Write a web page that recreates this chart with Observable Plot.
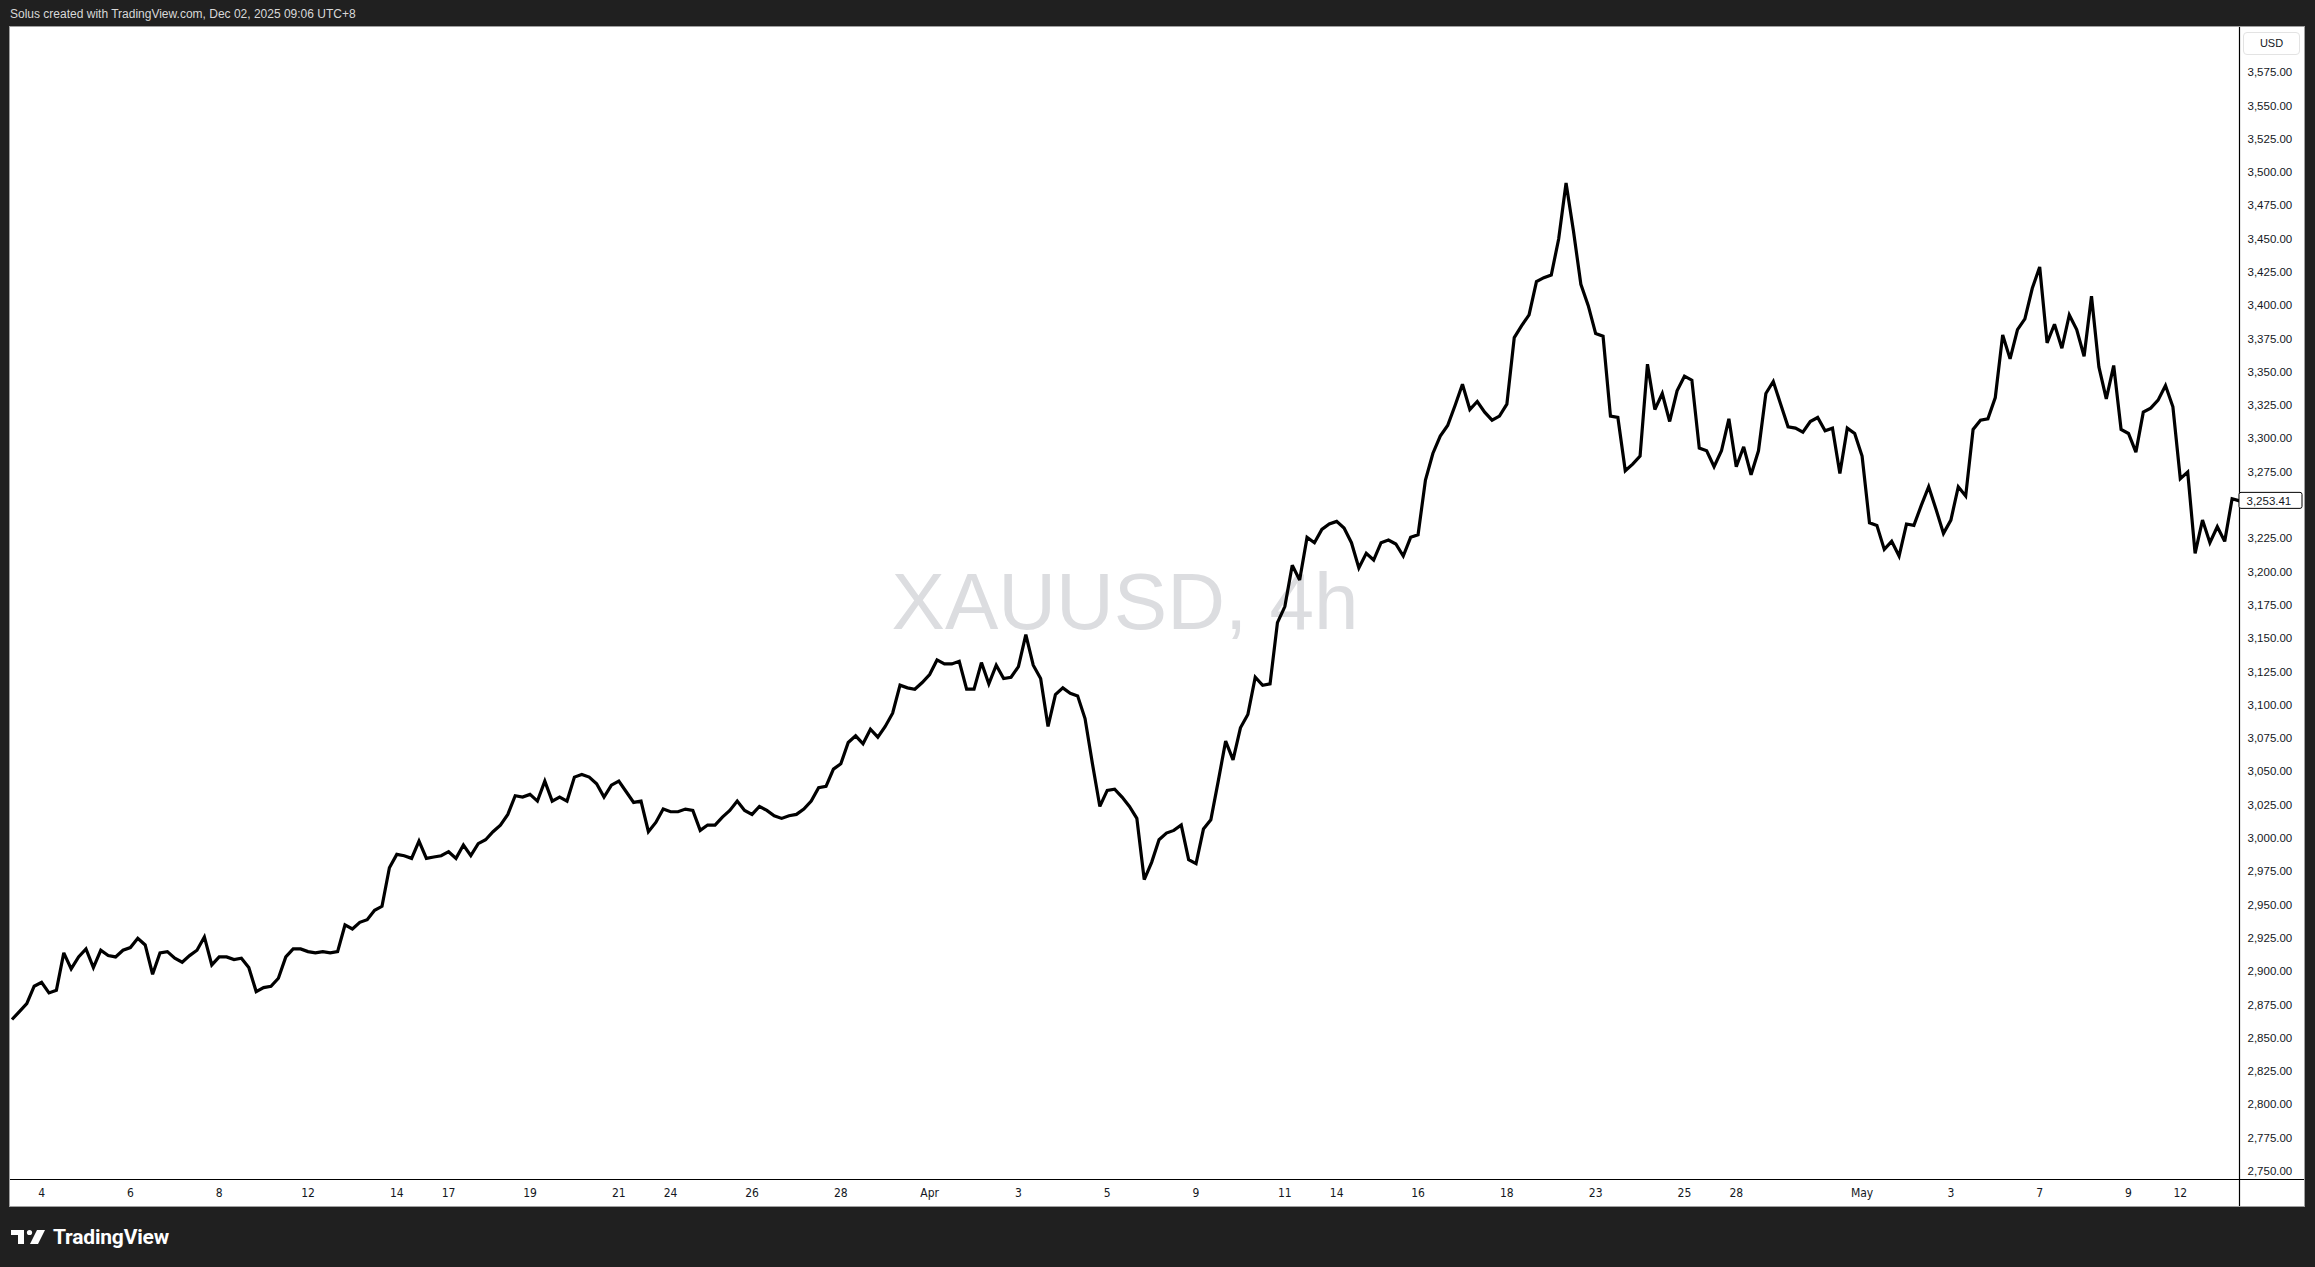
<!DOCTYPE html>
<html>
<head>
<meta charset="utf-8">
<script src="https://cdn.jsdelivr.net/npm/d3@7"></script>
<script src="https://cdn.jsdelivr.net/npm/@observablehq/plot@0.6"></script>
<style>
html, body { margin: 0; padding: 0; background: #202020; width: 2315px; height: 1267px; overflow: hidden; font-family: "Liberation Sans", Arial, sans-serif; }
#credit { position: absolute; left: 10px; top: 7px; font-size: 12px; line-height: 15px; color: #d8d8d8; white-space: nowrap; }
#panel { position: absolute; left: 9px; top: 26px; width: 2294px; height: 1179px; background: #fff; border: 1px solid #a0a0a0; }
#chart { position: absolute; left: 0; top: 0; }
#usd { position: absolute; left: 2233px; top: 5px; width: 55px; height: 21px; border: 1px solid #e3e3e3; border-radius: 4px; font-size: 11px; line-height: 21px; text-align: center; color: #131722; background: #fff; }
#logo { position: absolute; left: 11px; top: 1225px; height: 24px; display: flex; align-items: center; gap: 6px; color: #fff; }
#logo span { font-family: Roboto, Inter, "Liberation Sans", sans-serif; font-weight: 700; font-size: 21px; letter-spacing: -0.2px; }
</style>
</head>
<body>
<div id="credit"></div>
<div id="panel"><div id="chart"></div><div id="usd"></div></div>
<div id="logo">
  <svg width="36" height="16" viewBox="0 0 36 16"><path d="M0 1 H13 V15 H7 V6 H0 Z" fill="#fff"/><circle cx="18.5" cy="3.5" r="2.6" fill="#fff"/><path d="M26 1 H34 L27 15 H19 Z" fill="#fff"/></svg>
  <span id="brand"></span>
</div>
<script>
const creditText = "Solus created with TradingView.com, Dec 02, 2025 09:06 UTC+8";
const brandText = "TradingView";
const currencyText = "USD";
const symbolText = "XAUUSD, 4h";
const lastPrice = 3253.41;

// 4h closes, one per bar (bar index 0..301)
const closes = [
  2864, 2870, 2876, 2889, 2892, 2884, 2886, 2914, 2902, 2911,
  2917, 2903, 2916, 2912, 2911, 2916, 2918, 2925, 2920, 2898,
  2914, 2915, 2910, 2907, 2912, 2916, 2926, 2905, 2911, 2911,
  2909, 2910, 2903, 2885, 2888, 2889, 2895, 2911, 2917, 2917,
  2915, 2914, 2915, 2914, 2915, 2935, 2932, 2937, 2939, 2946,
  2949, 2978, 2988, 2987, 2985, 2998, 2985, 2986, 2987, 2990,
  2985, 2995, 2987, 2996, 2999, 3005, 3010, 3018, 3032, 3031,
  3033, 3028, 3043, 3028, 3031, 3028, 3046, 3048, 3046, 3041,
  3031, 3040, 3043, 3035, 3027, 3028, 3005, 3012, 3022, 3020,
  3020, 3022, 3021, 3006, 3010, 3010, 3016, 3021, 3028, 3021,
  3018, 3024, 3021, 3017, 3015, 3017, 3018, 3022, 3028, 3038,
  3039, 3052, 3056, 3072, 3077, 3071, 3082, 3076, 3084, 3094,
  3115, 3113, 3112, 3117, 3123, 3134, 3131, 3131, 3133, 3112,
  3112, 3132, 3116, 3130, 3120, 3121, 3129, 3153, 3130, 3120,
  3084, 3108, 3113, 3109, 3107, 3090, 3056, 3024, 3036, 3037,
  3031, 3024, 3015, 2969, 2982, 2999, 3004, 3006, 3010, 2984,
  2981, 3007, 3014, 3043, 3073, 3059, 3083, 3093, 3121, 3115,
  3116, 3162, 3174, 3205, 3194, 3226, 3222, 3232, 3236, 3238,
  3233, 3222, 3203, 3214, 3209, 3222, 3224, 3221, 3212, 3226,
  3228, 3269, 3289, 3302, 3310, 3325, 3341, 3322, 3328, 3320,
  3314, 3317, 3326, 3376, 3385, 3393, 3418, 3421, 3423, 3450,
  3492, 3456, 3416, 3400, 3379, 3377, 3317, 3316, 3276, 3281,
  3287, 3356, 3322, 3334, 3313, 3336, 3347, 3344, 3293, 3291,
  3279, 3291, 3315, 3279, 3294, 3273, 3291, 3334, 3343, 3326,
  3309, 3308, 3305, 3313, 3316, 3306, 3308, 3274, 3308, 3304,
  3287, 3237, 3235, 3217, 3223, 3212, 3236, 3235, 3250, 3264,
  3247, 3229, 3239, 3264, 3257, 3307, 3314, 3315, 3331, 3378,
  3360, 3382, 3390, 3413, 3429, 3372, 3386, 3368, 3393, 3382,
  3362, 3407, 3354, 3330, 3355, 3307, 3304, 3290, 3320, 3323,
  3329, 3340, 3324, 3270, 3275, 3214, 3239, 3222, 3234, 3223,
  3255, 3253.41
];

// time-axis labels and the bar index where each appears
const tickBars   = [4, 16, 28, 40, 52, 59, 70, 82, 89, 100, 112, 124, 136, 148, 160, 172, 179, 190, 202, 214, 226, 233, 250, 262, 274, 286, 293];
const tickLabels = ["4","6","8","12","14","17","19","21","24","26","28","Apr","3","5","9","11","14","16","18","23","25","28","May","3","7","9","12"];

// price-axis tick values (3,250 is hidden behind the last-price label)
const priceTicks = [2750, 2775, 2800, 2825, 2850, 2875, 2900, 2925, 2950, 2975, 3000, 3025, 3050, 3075, 3100, 3125, 3150, 3175, 3200, 3225, 3275, 3300, 3325, 3350, 3375, 3400, 3425, 3450, 3475, 3500, 3525, 3550, 3575];

const xDomain = [-0.2, 301];
const yDomain = [2743.9, 3608.8];

document.getElementById("credit").textContent = creditText;
document.getElementById("brand").textContent = brandText;
document.getElementById("usd").textContent = currencyText;

const bars = closes.map((v, i) => ({ i, v }));
const labelOf = new Map(tickBars.map((b, k) => [b, tickLabels[k]]));
const fmt = d3.format(",.2f");
const lastBar = closes.length - 1;

const chart = Plot.plot({
  width: 2294,
  height: 1179,
  marginLeft: 0,
  marginTop: 0,
  marginRight: 65,
  marginBottom: 27,
  style: { background: "transparent", color: "#131722", fontFamily: "'Liberation Sans', Arial, sans-serif", overflow: "visible" },
  x: { domain: xDomain, axis: null },
  y: { domain: yDomain, axis: null },
  marks: [
    Plot.text([symbolText], { frameAnchor: "middle", text: d => d, fontSize: 80, fill: "#dcdde0", fontFamily: "'Liberation Sans', Arial, sans-serif" }),
    Plot.line(bars, { x: "i", y: "v", stroke: "#000", strokeWidth: 3.2, strokeLinejoin: "miter", strokeMiterlimit: 3, strokeLinecap: "butt" }),
    Plot.ruleY([yDomain[0]], { stroke: "#000", strokeWidth: 1.2, insetRight: -65 }),
    Plot.ruleX([xDomain[1]], { stroke: "#000", strokeWidth: 1.2, insetBottom: -27 }),
    Plot.axisX({ ticks: tickBars, tickFormat: d => labelOf.get(d), label: null, tickSize: 0, tickPadding: 9, fontSize: 12, fontFamily: "'Liberation Sans Narrow', 'DejaVu Sans Condensed', 'Liberation Sans', sans-serif", fill: "#131722" }),
    Plot.axisY({ anchor: "right", ticks: priceTicks, tickFormat: fmt, label: null, tickSize: 0, tickPadding: 8, fontSize: 11.5, textAnchor: "start", fill: "#131722" }),
    Plot.rect([lastPrice], { x1: lastBar, x2: lastBar, y1: d => d, y2: d => d, insetLeft: 0, insetRight: -63, insetTop: -8, insetBottom: -8, fill: "#fff", stroke: "#000", strokeWidth: 1, rx: 2 }),
    Plot.text([lastPrice], { x: lastBar, y: d => d, text: d => fmt(d), dx: 7, textAnchor: "start", fontSize: 11.5, fill: "#131722" })
  ]
});
document.getElementById("chart").appendChild(chart);
</script>
</body>
</html>
